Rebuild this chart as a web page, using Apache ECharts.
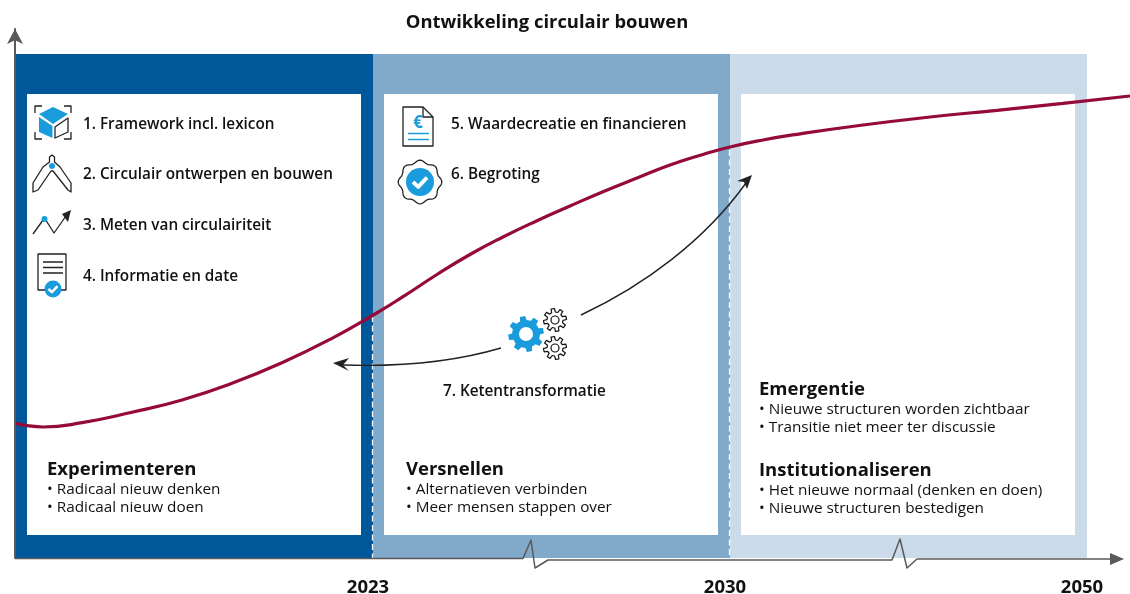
<!DOCTYPE html>
<html>
<head>
<meta charset="utf-8">
<title>Ontwikkeling circulair bouwen</title>
<script src="https://cdn.jsdelivr.net/npm/echarts@6/dist/echarts.min.js"></script>
<style>
  html, body { margin: 0; padding: 0; background: #fff; }
  #chart { width: 1130px; height: 594px; }
</style>
</head>
<body>
<div id="chart"></div>
<script>
// curve (x along the time axis, y = level above the axis)
const curveX = [0, 28, 67, 117, 167, 217, 267, 317, 360, 388, 422, 455, 488, 522, 555, 588, 622, 655, 688, 715, 748, 782, 848, 915, 982, 1048, 1115];
const curveY = [134.7, 131, 135.3, 145.7, 158, 174.7, 195.3, 219.7, 244, 261.3, 283.5, 303.5, 321, 337.3, 352, 366.3, 380, 393, 403.5, 411, 418, 423.7, 433, 441, 447.7, 454.7, 462];

const phaseStart = [0, 358, 715];
const phaseEnd = [358, 715, 1072];
const phaseColors = ['#00589a', '#80a9ca', '#cbdbe9'];
const phaseTop = 504;

const yearTicks = [358, 715, 1072];
const yearLabels = ['2023', '2030', '2050'];

const titleText = 'Ontwikkeling circulair bouwen';
const itemsLeft = ['1. Framework incl. lexicon', '2. Circulair ontwerpen en bouwen', '3. Meten van circulairiteit', '4. Informatie en date'];
const itemsMiddle = ['5. Waardecreatie en financieren', '6. Begroting'];
const itemChain = '7. Ketentransformatie';
const blockExperiment = ['Experimenteren', '• Radicaal nieuw denken', '• Radicaal nieuw doen'];
const blockVersnellen = ['Versnellen', '• Alternatieven verbinden', '• Meer mensen stappen over'];
const blockEmergentie = ['Emergentie', '• Nieuwe structuren worden zichtbaar', '• Transitie niet meer ter discussie'];
const blockInstitutie = ['Institutionaliseren', '• Het nieuwe normaal (denken en doen)', '• Nieuwe structuren bestedigen'];

const FONT = '"Open Sans", "Noto Sans", sans-serif';
const INK = '#111';
const BLUE = '#1a9cdc';
const AXIS = '#595959';
const ITEM_SIZE = 15.3;

function label(x, y, text, size, weight, align) {
  return {
    type: 'text', z: 10,
    style: { x: x, y: y, text: text, fill: INK, font: (weight || 400) + ' ' + size + 'px ' + FONT, align: align || 'left', verticalAlign: 'middle' }
  };
}

function block(x, y, lines) {
  return [
    label(x, y, lines[0], 18.5, 700),
    label(x, y + 20, lines[1], ITEM_SIZE),
    label(x, y + 38, lines[2], ITEM_SIZE)
  ];
}

function card(x, y, w, h) {
  return { type: 'rect', z: 1, shape: { x: x, y: y, width: w, height: h }, style: { fill: '#fff' } };
}

function stroke(d, width, color) {
  return { type: 'path', shape: { pathData: d }, style: { fill: 'none', stroke: color || '#222', lineWidth: width || 1.2, lineJoin: 'round' } };
}

function fill(d, color) {
  return { type: 'path', shape: { pathData: d }, style: { fill: color, stroke: 'none' } };
}

function dot(cx, cy, r, color) {
  return { type: 'circle', shape: { cx: cx, cy: cy, r: r }, style: { fill: color || BLUE } };
}

function ring(cx, cy, r) {
  return { type: 'circle', shape: { cx: cx, cy: cy, r: r }, style: { fill: 'none', stroke: '#111', lineWidth: 1.2 } };
}

function check(cx, cy, s) {
  const d = 'M' + (cx - s) + ' ' + cy + 'L' + (cx - s * 0.25) + ' ' + (cy + s * 0.7) + 'L' + (cx + s) + ' ' + (cy - s * 0.65);
  return stroke(d, s * 0.55, '#fff');
}

// gear outline as path
function gearPath(cx, cy, rOut, rIn, teeth) {
  let d = '';
  const step = Math.PI * 2 / teeth;
  for (let i = 0; i < teeth; i++) {
    const a = i * step - step / 4;
    const pts = [
      [rIn, a - step * 0.30], [rOut, a - step * 0.19], [rOut, a + step * 0.19], [rIn, a + step * 0.30]
    ];
    pts.forEach(function (p, j) {
      const px = (cx + p[0] * Math.cos(p[1])).toFixed(2);
      const py = (cy + p[0] * Math.sin(p[1])).toFixed(2);
      d += (i === 0 && j === 0 ? 'M' : 'L') + px + ' ' + py;
    });
  }
  return d + 'Z';
}

function badgePath(cx, cy, r) {
  let d = '';
  for (let i = 0; i <= 96; i++) {
    const a = i / 96 * Math.PI * 2;
    const rr = r + 1.3 * Math.cos(a * 8);
    d += (i ? 'L' : 'M') + (cx + rr * Math.cos(a)).toFixed(2) + ' ' + (cy + rr * Math.sin(a)).toFixed(2);
  }
  return d + 'Z';
}

const icons = [
  // cube
  stroke('M35 113V106H42M64 106H71V113M35 132V139H42M64 139H71V132', 1.3),
  fill('M53 107L68 114L53 124L39 114Z', BLUE),
  fill('M39 117L52.5 126V138L39 132Z', BLUE),
  stroke('M55 127L68 118V132L55 138Z', 1.3),
  // compass
  stroke('M49.5 157L52 155L54.5 157V162L60 167L71 183V192L68 190L53 171H51L38 190L33 192V183L43 167L49.5 162Z', 1.3),
  dot(52, 166, 3),
  // chart with arrow
  stroke('M33 234L44.5 218L54 233L66 216', 1.3),
  dot(44.5, 219, 3),
  fill('M71 210L62 214L68 222Z', '#222'),
  // document with check
  stroke('M38 254H66V290H38Z', 1.3),
  stroke('M43 262H63M43 267.5H63M43 273H63', 1.3),
  dot(53, 289, 8.5),
  check(53, 289, 4.5),
  // euro document
  stroke('M403 107H423L433 117V146H403Z', 1.3),
  stroke('M423 107V117H433', 1.3),
  { type: 'text', style: { x: 418, y: 123, text: '€', fill: BLUE, font: '700 17px ' + FONT, align: 'center', verticalAlign: 'middle' } },
  stroke('M408 133.5H429M408 139.5H429', 1.4, BLUE),
  // badge
  stroke(badgePath(420, 182, 20.5), 1.3),
  dot(420, 182, 14),
  check(420, 182, 7),
  // gears
  fill(gearPath(526, 334, 18, 14, 8), BLUE),
  dot(526, 334, 7, '#fff'),
  stroke(gearPath(555, 320, 11.5, 8, 8), 1.2, '#111'),
  ring(555, 320, 4),
  stroke(gearPath(555, 348, 11.5, 8, 8), 1.2, '#111'),
  ring(555, 348, 4)
];

const arrows = [
  stroke('M501 348C450 363 400 367 343 365', 1.4),
  fill('M333 363L349 358L343 365L349 371Z', '#222'),
  stroke('M581 315C645 285 705 240 746 183', 1.4),
  fill('M752 175L747 189L744 182L737 181Z', '#222')
];

const axisX = [
  stroke('M15 558.5H523L531 540L535 568L548 560H892L900 539L907 568L917 559H1112', 1.5, AXIS),
  fill('M1124 559L1110 553V565Z', AXIS)
];

const dashes = [
  { type: 'line', z: 2, shape: { x1: 372.5, y1: 316, x2: 372.5, y2: 558 }, style: { stroke: '#fff', lineWidth: 1.3, lineDash: [6, 3.5] } },
  { type: 'line', z: 2, shape: { x1: 729.5, y1: 150, x2: 729.5, y2: 558 }, style: { stroke: '#fff', lineWidth: 1.3, lineDash: [6, 3.5] } }
];

const chart = echarts.init(document.getElementById('chart'));
chart.setOption({
  animation: false,
  backgroundColor: '#fff',
  grid: { left: 15, right: 0, top: 29, bottom: 36, outerBoundsMode: 'none' },
  xAxis: {
    type: 'value', min: 0, max: 1115,
    splitLine: { show: false },
    axisLine: { show: false },
    axisTick: { show: false },
    axisLabel: {
      customValues: yearTicks,
      margin: 20,
      padding: [0, 10, 0, 0],
      color: INK,
      fontFamily: FONT,
      fontSize: 18.5,
      fontWeight: 700,
      formatter: function (v) { return yearLabels[yearTicks.indexOf(v)]; }
    }
  },
  yAxis: {
    type: 'value', min: 0, max: 529, z: 6,
    splitLine: { show: false },
    axisTick: { show: false },
    axisLabel: { show: false },
    axisLine: {
      show: true, symbol: ['none', 'arrow'], symbolSize: [12, 15], symbolOffset: [0, 0],
      lineStyle: { color: AXIS, width: 2 }
    }
  },
  series: [
    {
      type: 'custom', z: 0, silent: true,
      encode: { x: [0, 1], y: 2 },
      data: phaseStart.map(function (s, i) { return [s, phaseEnd[i], phaseTop]; }),
      renderItem: function (params, api) {
        const a = api.coord([api.value(0), api.value(2)]);
        const b = api.coord([api.value(1), 0]);
        return { type: 'rect', shape: { x: a[0], y: a[1], width: b[0] - a[0], height: b[1] - a[1] }, style: { fill: phaseColors[params.dataIndex] } };
      }
    },
    {
      type: 'line', z: 5, smooth: 0.5, showSymbol: false, silent: true,
      data: curveX.map(function (x, i) { return [x, curveY[i]]; }),
      lineStyle: { color: '#960a3a', width: 3.2 }
    },
    {
      // icons, arrows and the broken time axis
      type: 'custom', z: 8, silent: true,
      data: [[0, 0]],
      renderItem: function () {
        return { type: 'group', children: axisX.concat(icons, arrows) };
      }
    }
  ],
  graphic: {
    elements: [
      card(27, 94, 334, 441),
      card(384, 94, 334, 441),
      card(741, 94, 334, 441)
    ].concat(dashes, [
      label(547, 23, titleText, 18.4, 700, 'center'),
      label(83, 125, itemsLeft[0], ITEM_SIZE, 600),
      label(83, 175, itemsLeft[1], ITEM_SIZE, 600),
      label(83, 226, itemsLeft[2], ITEM_SIZE, 600),
      label(83, 277, itemsLeft[3], ITEM_SIZE, 600),
      label(451, 125, itemsMiddle[0], ITEM_SIZE, 600),
      label(451, 175, itemsMiddle[1], ITEM_SIZE, 600),
      label(443, 392, itemChain, ITEM_SIZE, 600)
    ], block(47, 470, blockExperiment), block(406, 470, blockVersnellen), block(759, 390, blockEmergentie), block(759, 471, blockInstitutie))
  }
});
</script>
</body>
</html>
